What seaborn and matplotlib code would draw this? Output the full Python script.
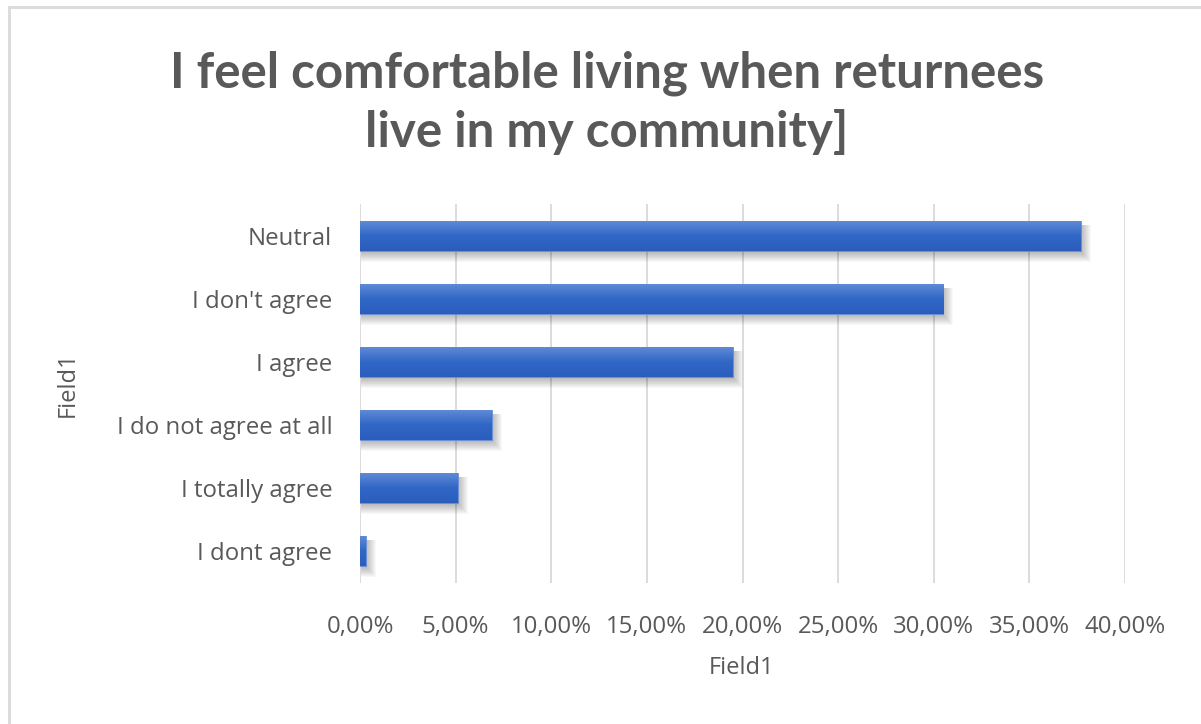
import numpy as np
import pandas as pd
import matplotlib
matplotlib.use("Agg")
import matplotlib.pyplot as plt
from matplotlib.patches import Rectangle
from matplotlib.lines import Line2D
from matplotlib.transforms import IdentityTransform
from matplotlib.colors import LinearSegmentedColormap
import seaborn as sns

# Survey answers and their share of respondents (percent)
categories = ["Neutral", "I don't agree", "I agree", "I do not agree at all",
              "I totally agree", "I dont agree"]
shares = [37.7, 30.5, 19.5, 6.9, 5.1, 0.3]
x_ticks = [0, 5, 10, 15, 20, 25, 30, 35, 40]
x_tick_labels = ["0,00%", "5,00%", "10,00%", "15,00%", "20,00%", "25,00%",
                 "30,00%", "35,00%", "40,00%"]
title = "I feel comfortable living when returnees\nlive in my community]"
axis_name = "Field1"

TEXT = "#595959"
GRID = "#d9d9d9"
LABEL_FONT = ["Open Sans", "DejaVu Sans"]
TITLE_FONT = ["Lato", "DejaVu Sans"]

sns.set_theme(style="white")
plt.rcParams["font.family"] = LABEL_FONT

df = pd.DataFrame({"answer": categories, "share": shares})

fig = plt.figure(figsize=(12.01, 7.24), dpi=100)
ax = fig.add_axes([0.2998, 0.1948, 0.6369, 0.5234])

sns.barplot(data=df, x="share", y="answer", orient="h", color="#3a6bc8",
            width=0.475, ax=ax, zorder=3, saturation=1)

ax.set_xlim(0, 40)
ax.set_ylim(5.5, -0.5)
ax.autoscale(False)
ax.set_xticks(x_ticks)
ax.set_xticklabels(x_tick_labels)
ax.xaxis.grid(True, color=GRID, linewidth=1.3, zorder=0)
ax.yaxis.grid(False)
ax.set_axisbelow(True)
for s in ax.spines.values():
    s.set_visible(False)
ax.tick_params(axis="both", length=0, labelsize=17.3, labelcolor=TEXT)
ax.tick_params(axis="y", pad=20)
ax.tick_params(axis="x", pad=23)

ax.set_xlabel(axis_name, fontsize=17, color=TEXT)
ax.set_ylabel(axis_name, fontsize=17, color=TEXT)
ax.xaxis.set_label_coords(0.499, -0.224)
ax.xaxis.label.set_va("center")
ax.yaxis.set_label_coords(-0.3817, 0.525)
ax.yaxis.label.set_va("center")

# Soft drop shadow and vertical gradient on each bar
fig.canvas.draw()
grad = LinearSegmentedColormap.from_list("bar", ["#5f89d6", "#3067c6", "#2c5dbd"])
bars = list(ax.patches)
boxes = []
for p in bars:
    x0, y0 = p.get_x(), p.get_y()
    w, h = p.get_width(), p.get_height()
    (px0, py0), (px1, py1) = ax.transData.transform([(x0, y0), (x0 + w, y0 + h)])
    boxes.append((x0, y0, w, h, min(px0, px1), max(px0, px1),
                  min(py0, py1), max(py0, py1)))

for p, (x0, y0, w, h, left, right, bottom, top) in zip(bars, boxes):
    for k in range(10):
        sh = Rectangle((left + 1, bottom - 2 - k), (right - left) + k,
                       (top - bottom) - 2 + k, transform=IdentityTransform(),
                       facecolor="black", edgecolor="none", alpha=0.028,
                       zorder=2)
        ax.add_artist(sh)
    img = np.linspace(0, 1, 64).reshape(-1, 1)
    im = ax.imshow(img, cmap=grad, aspect="auto", extent=(x0, x0 + w, y0 + h, y0),
                   zorder=4, interpolation="bilinear")
    im.set_clip_path(p)
    p.set_edgecolor("#6a90d8")
    p.set_linewidth(0.6)

ax.set_ylim(5.5, -0.5)
ax.set_xlim(0, 40)

fig.text(0.5055, 1 - 103 / 724, title, ha="center", va="center",
         fontsize=35.5, fontweight="bold", color=TEXT, linespacing=1.34,
         family=TITLE_FONT)

# Chart frame edges
fig.add_artist(Line2D([9 / 1201, 9 / 1201], [0, 1 - 7 / 724], color="#dcdcdc",
                      linewidth=2.2, transform=fig.transFigure))
fig.add_artist(Line2D([9 / 1201, 1], [1 - 7 / 724, 1 - 7 / 724], color="#dcdcdc",
                      linewidth=2.2, transform=fig.transFigure))

fig.savefig("out.png", dpi=100)
